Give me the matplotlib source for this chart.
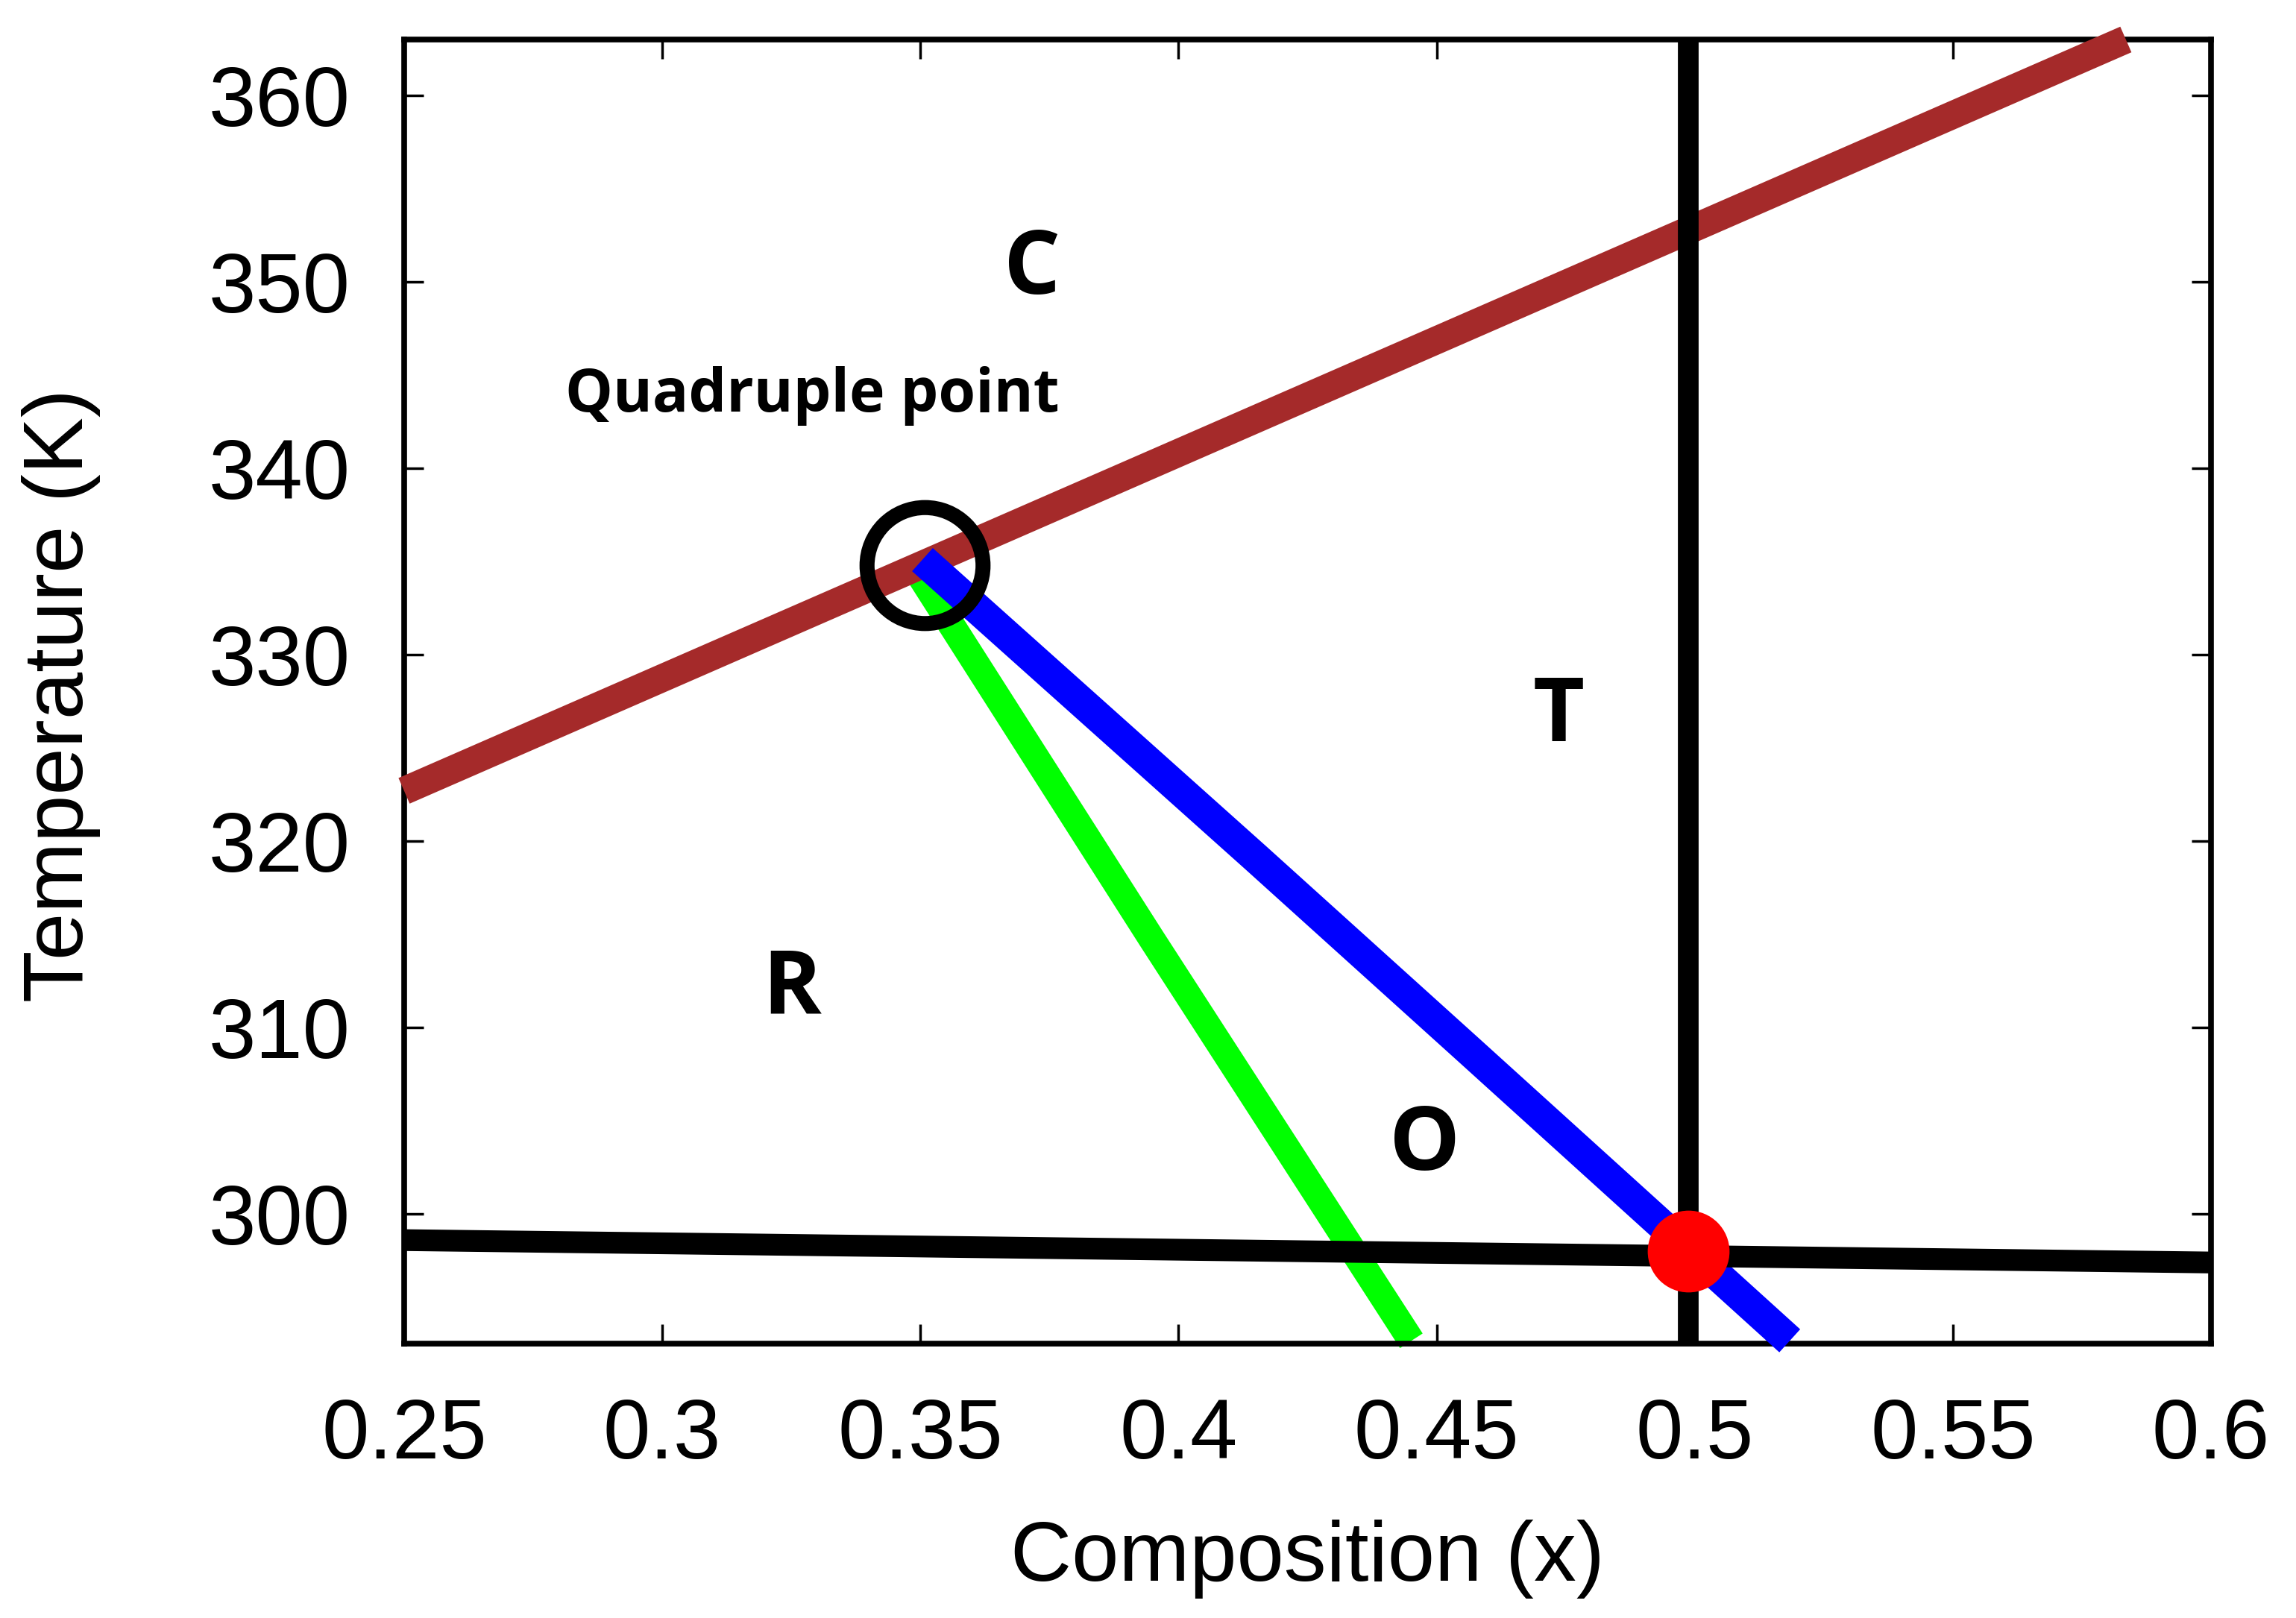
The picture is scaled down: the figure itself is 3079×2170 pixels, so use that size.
import matplotlib
matplotlib.use("Agg")
import matplotlib.pyplot as plt

# Phase boundaries
brown_x = [0.25, 0.5835]
brown_t = [322.7, 363.0]

blue_x = [0.3504, 0.4150, 0.4566, 0.5184]
blue_t = [335.1, 319.1, 308.7, 293.2]

green_x = [0.3491, 0.3947, 0.4451]
green_t = [334.6, 314.8, 293.2]

horiz_x = [0.25, 0.60]
horiz_t = [298.6, 297.4]

vert_x = [0.4987, 0.4987]
vert_t = [293.05, 363.0]

quad_point = (0.3508, 334.8)
red_point = (0.4987, 298.0)

phase_labels = ["C", "T", "R", "O"]
phase_x = [0.3716, 0.4737, 0.3251, 0.4477]
phase_t = [350.6, 326.6, 312.0, 303.6]

x_ticks = [0.25, 0.3, 0.35, 0.4, 0.45, 0.5, 0.55, 0.6]
x_ticklabels = ["0.25", "0.3", "0.35", "0.4", "0.45", "0.5", "0.55", "0.6"]
y_ticks = [300, 310, 320, 330, 340, 350, 360]

fig = plt.figure(figsize=(30.79, 21.70), dpi=100)
ax = fig.add_axes([0.176, 0.1696, 0.787, 0.806])

ax.plot(green_x, green_t, color="#00ff00", lw=26, solid_capstyle="butt", zorder=2, clip_on=False)
ax.plot(brown_x, brown_t, color="#a52a2a", lw=27, solid_capstyle="butt", zorder=3, clip_on=False)
ax.plot(blue_x, blue_t, color="#0000ff", lw=30, solid_capstyle="butt", zorder=4, clip_on=False)
ax.plot(horiz_x, horiz_t, color="black", lw=21, solid_capstyle="butt", zorder=5, clip_on=False)
ax.plot(vert_x, vert_t, color="black", lw=20, solid_capstyle="butt", zorder=5)

ax.plot(*quad_point, marker="o", ms=112, mfc="none", mec="black", mew=14.5, zorder=6)
ax.plot(*red_point, marker="o", ms=79, mfc="#ff0000", mec="none", zorder=7)

for lab, x, t in zip(phase_labels, phase_x, phase_t):
    ax.text(x, t, lab, fontsize=86, fontweight="bold", family=["Open Sans", "DejaVu Sans"],
            ha="center", va="center", zorder=8)
ax.text(0.3291, 343.9, "Quadruple point", fontsize=58, fontweight="bold",
        family=["Open Sans", "DejaVu Sans"], ha="center", va="center", zorder=8)

ax.set_xlim(0.25, 0.6)
ax.set_ylim(293.05, 363.0)
ax.set_xticks(x_ticks)
ax.set_xticklabels(x_ticklabels)
ax.set_yticks(y_ticks)

for s in ax.spines.values():
    s.set_linewidth(5.5)
ax.tick_params(direction="in", length=19, width=2.5, top=True, right=True,
               labelsize=82, pad=52)
for lab in ax.get_xticklabels() + ax.get_yticklabels():
    lab.set_family("Liberation Sans")

ax.set_xlabel("Composition (x)", fontsize=82, family="Liberation Sans", va="center")
ax.set_ylabel("Temperature (K)", fontsize=82, family="Liberation Sans", va="center")
ax.xaxis.set_label_coords(0.4998, -0.165)
ax.yaxis.set_label_coords(-0.19, 0.497)

fig.savefig("out.png", dpi=100, facecolor="white")
